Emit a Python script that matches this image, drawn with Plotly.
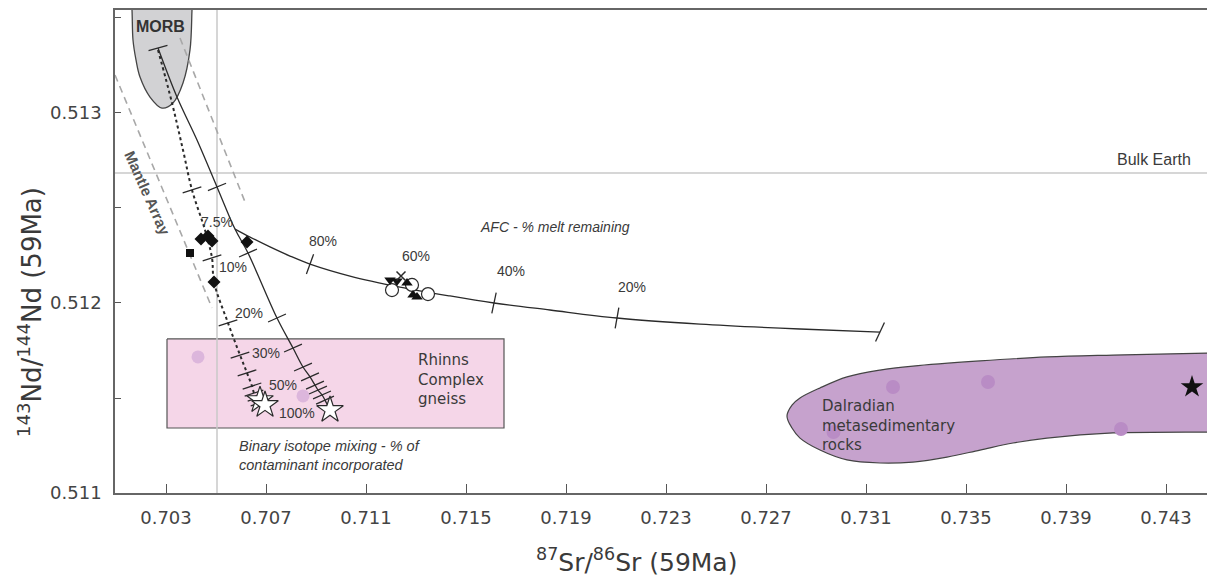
import plotly.graph_objects as go

# ---------------- axes ----------------
X_RANGE = [0.70096, 0.74496]
Y_RANGE = [0.5110, 0.513542]
x_ticks = [0.703, 0.707, 0.711, 0.715, 0.719, 0.723, 0.727, 0.731, 0.735, 0.739, 0.743]
x_tick_labels = ["0.703", "0.707", "0.711", "0.715", "0.719", "0.723", "0.727", "0.731", "0.735", "0.739", "0.743"]
y_ticks = [0.511, 0.512, 0.513]
y_tick_labels = ["0.511", "0.512", "0.513"]

# Bulk Earth reference values
bulk_earth_sr = 0.70504
bulk_earth_nd = 0.512684

# ---------------- fields ----------------
morb_x = [0.70156, 0.70164, 0.70168, 0.70180, 0.70196, 0.70236, 0.70284, 0.70328, 0.70368, 0.70396, 0.70404, 0.70408]
morb_y = [0.51370, 0.513542, 0.513384, 0.513279, 0.513189, 0.513084, 0.513026, 0.513053, 0.513158, 0.513332, 0.513542, 0.51370]

dal_x = [0.72784, 0.72804, 0.72836, 0.72916, 0.73024, 0.73156, 0.73288, 0.73556, 0.73824, 0.74088, 0.74488, 0.74676,
         0.74676, 0.74488, 0.74088, 0.73824, 0.73688, 0.73556, 0.73424, 0.73288, 0.73156, 0.73024, 0.72916, 0.72836, 0.72804, 0.72784]
dal_y = [0.511405, 0.511463, 0.511500, 0.511553, 0.511611, 0.511647, 0.511668, 0.511695, 0.511716, 0.511726, 0.511737, 0.511742,
         0.511321, 0.511321, 0.511316, 0.511289, 0.511263, 0.511226, 0.511189, 0.511163, 0.511158, 0.511174, 0.511226, 0.511289, 0.511342, 0.511405]

rhinns_x = [0.70304, 0.71652, 0.71652, 0.70304, 0.70304]
rhinns_y = [0.511811, 0.511811, 0.511342, 0.511342, 0.511811]

# Mantle array bounds
ma_left_x = [0.70096, 0.70484]
ma_left_y = [0.513200, 0.511974]
ma_right_x = [0.70356, 0.70616]
ma_right_y = [0.513395, 0.512532]

# ---------------- model curves ----------------
mix_a_x = [0.70268, 0.70344, 0.70424, 0.70504, 0.70576, 0.70628, 0.70744, 0.70808, 0.70848, 0.70876, 0.70896, 0.70908, 0.70924, 0.70936, 0.70956]
mix_a_y = [0.513342, 0.513084, 0.512858, 0.512611, 0.512389, 0.512263, 0.511921, 0.511763, 0.511663, 0.511611, 0.511568, 0.511542, 0.511516, 0.511489, 0.511437]
mix_a_tick_x = [0.70268, 0.70504, 0.70628, 0.70744, 0.70808, 0.70848, 0.70876, 0.70896, 0.70908, 0.70924, 0.70936]
mix_a_tick_y = [0.513342, 0.512611, 0.512263, 0.511921, 0.511763, 0.511663, 0.511611, 0.511568, 0.511542, 0.511516, 0.511489]
mix_a_tick_angle = [-15, -22, -24, -24, -24, -24, -24, -24, -24, -24, -24]

mix_b_x = [0.70268, 0.70324, 0.70368, 0.70404, 0.70456, 0.70484, 0.70492, 0.70548, 0.70596, 0.70624, 0.70644, 0.70652, 0.70664, 0.70676, 0.70688]
mix_b_y = [0.513332, 0.513053, 0.512805, 0.512595, 0.512384, 0.512237, 0.512111, 0.511895, 0.511726, 0.511632, 0.511563, 0.511526, 0.511500, 0.511474, 0.511432]
mix_b_tick_x = [0.70404, 0.70484, 0.70548, 0.70596, 0.70624, 0.70644, 0.70652, 0.70664, 0.70676]
mix_b_tick_y = [0.512595, 0.512237, 0.511895, 0.511726, 0.511632, 0.511563, 0.511526, 0.511500, 0.511474]

mix_labels = ["7.5%", "10%", "20%", "30%", "50%", "100%"]
mix_label_x = [0.70504, 0.70568, 0.70632, 0.70700, 0.70768, 0.70824]
mix_label_y = [0.512426, 0.512189, 0.511947, 0.511737, 0.511568, 0.511421]

afc_x = [0.70576, 0.70636, 0.70716, 0.70796, 0.70876, 0.71036, 0.71236, 0.71436, 0.71612, 0.71836, 0.72104, 0.72436, 0.72836, 0.73156]
afc_y = [0.512389, 0.512347, 0.512295, 0.512247, 0.512205, 0.512142, 0.512084, 0.512037, 0.512000, 0.511963, 0.511921, 0.511889, 0.511863, 0.511847]
afc_tick_x = [0.70876, 0.71612, 0.72104, 0.73156]
afc_tick_y = [0.512205, 0.512000, 0.511921, 0.511847]
afc_tick_angle = [20, 12, 10, 25]
afc_labels = ["80%", "60%", "40%", "20%"]
afc_label_x = [0.70928, 0.71300, 0.71680, 0.72164]
afc_label_y = [0.512326, 0.512247, 0.512168, 0.512084]

# ---------------- samples ----------------
diamond_x = [0.70440, 0.70468, 0.70484, 0.70624, 0.70492]
diamond_y = [0.512337, 0.512353, 0.512326, 0.512321, 0.512111]
square_x = [0.70396]
square_y = [0.512263]
circle_x = [0.71204, 0.71284, 0.71348]
circle_y = [0.512068, 0.512095, 0.512047]
tri_down_x = [0.71196, 0.71224]
tri_down_y = [0.512121, 0.512116]
tri_up_x = [0.71264, 0.71288, 0.71304]
tri_up_y = [0.512105, 0.512042, 0.512032]
cross_x = [0.71240]
cross_y = [0.512142]
contam_star_x = [0.70676, 0.70696, 0.70956]
contam_star_y = [0.511489, 0.511463, 0.511437]
rhinns_dot_x = [0.70428, 0.70848]
rhinns_dot_y = [0.511716, 0.511511]
dal_dot_x = [0.73208, 0.73588, 0.72970, 0.74120]
dal_dot_y = [0.511558, 0.511584, 0.511321, 0.511337]
dal_star_x = [0.74404]
dal_star_y = [0.511558]

LINE = "#2a2a2a"
TXT = "#3a3a3a"

fig = go.Figure()

# fields
fig.add_trace(go.Scatter(x=rhinns_x, y=rhinns_y, mode="lines", fill="toself",
                         fillcolor="#f5d6e8", line=dict(color="#555555", width=1.2), hoverinfo="skip"))
fig.add_trace(go.Scatter(x=dal_x, y=dal_y, mode="lines", fill="toself", line_shape="spline",
                         fillcolor="#c6a2cd", line=dict(color="#444444", width=1.2), hoverinfo="skip"))
fig.add_trace(go.Scatter(x=morb_x, y=morb_y, mode="lines", fill="toself", line_shape="spline",
                         fillcolor="#d2d2d4", line=dict(color="#444444", width=1.3), hoverinfo="skip"))

# reference lines
fig.add_trace(go.Scatter(x=[bulk_earth_sr, bulk_earth_sr], y=Y_RANGE, mode="lines",
                         line=dict(color="#c8c8c8", width=1.5), hoverinfo="skip"))
fig.add_trace(go.Scatter(x=X_RANGE, y=[bulk_earth_nd, bulk_earth_nd], mode="lines",
                         line=dict(color="#c8c8c8", width=1.5), hoverinfo="skip"))

# mantle array
for mx, my in [(ma_left_x, ma_left_y), (ma_right_x, ma_right_y)]:
    fig.add_trace(go.Scatter(x=mx, y=my, mode="lines",
                             line=dict(color="#a8a8a8", width=1.6, dash="7px,5px"), hoverinfo="skip"))

# pale sample dots
fig.add_trace(go.Scatter(x=rhinns_dot_x, y=rhinns_dot_y, mode="markers",
                         marker=dict(size=13, color="#dcb6dc"), hoverinfo="skip"))
fig.add_trace(go.Scatter(x=dal_dot_x, y=dal_dot_y, mode="markers",
                         marker=dict(size=14, color="#b98cc5"), hoverinfo="skip"))

# curves
fig.add_trace(go.Scatter(x=mix_a_x, y=mix_a_y, mode="lines", line_shape="spline",
                         line=dict(color=LINE, width=1.3), hoverinfo="skip"))
fig.add_trace(go.Scatter(x=mix_b_x, y=mix_b_y, mode="lines", line_shape="spline",
                         line=dict(color=LINE, width=2, dash="dot"), hoverinfo="skip"))
fig.add_trace(go.Scatter(x=afc_x, y=afc_y, mode="lines", line_shape="spline",
                         line=dict(color=LINE, width=1.3), hoverinfo="skip"))

# tick marks on curves
fig.add_trace(go.Scatter(x=mix_a_tick_x, y=mix_a_tick_y, mode="markers",
                         marker=dict(symbol="line-ew", size=14, angle=mix_a_tick_angle,
                                     line=dict(color=LINE, width=1.3)), hoverinfo="skip"))
fig.add_trace(go.Scatter(x=mix_b_tick_x, y=mix_b_tick_y, mode="markers",
                         marker=dict(symbol="line-ew", size=14, angle=-18,
                                     line=dict(color=LINE, width=1.3)), hoverinfo="skip"))
fig.add_trace(go.Scatter(x=afc_tick_x, y=afc_tick_y, mode="markers",
                         marker=dict(symbol="line-ns", size=15, angle=afc_tick_angle,
                                     line=dict(color=LINE, width=1.3)), hoverinfo="skip"))

# samples
fig.add_trace(go.Scatter(x=diamond_x, y=diamond_y, mode="markers",
                         marker=dict(symbol="diamond", size=10, color="#111111"), hoverinfo="skip"))
fig.add_trace(go.Scatter(x=square_x, y=square_y, mode="markers",
                         marker=dict(symbol="square", size=8, color="#111111"), hoverinfo="skip"))
fig.add_trace(go.Scatter(x=circle_x, y=circle_y, mode="markers",
                         marker=dict(symbol="circle", size=13, color="white",
                                     line=dict(color=LINE, width=1.2)), hoverinfo="skip"))
fig.add_trace(go.Scatter(x=tri_down_x, y=tri_down_y, mode="markers",
                         marker=dict(symbol="triangle-down", size=10, color="#111111"), hoverinfo="skip"))
fig.add_trace(go.Scatter(x=tri_up_x, y=tri_up_y, mode="markers",
                         marker=dict(symbol="triangle-up", size=10, color="#111111"), hoverinfo="skip"))
fig.add_trace(go.Scatter(x=cross_x, y=cross_y, mode="markers",
                         marker=dict(symbol="x-thin", size=9, line=dict(color=LINE, width=1.5)), hoverinfo="skip"))
fig.add_trace(go.Scatter(x=contam_star_x, y=contam_star_y, mode="markers",
                         marker=dict(symbol="star", size=20, color="white",
                                     line=dict(color=LINE, width=1.2)), hoverinfo="skip"))
fig.add_trace(go.Scatter(x=dal_star_x, y=dal_star_y, mode="markers",
                         marker=dict(symbol="star", size=17, color="#111111"), hoverinfo="skip"))

ann = []
LBL = dict(family="Liberation Sans, Arial", size=14, color=TXT)
for t, x, y in zip(mix_labels, mix_label_x, mix_label_y):
    ann.append(dict(x=x, y=y, text=t, showarrow=False, font=LBL, xanchor="center", yanchor="middle"))
for t, x, y in zip(afc_labels, afc_label_x, afc_label_y):
    ann.append(dict(x=x, y=y, text=t, showarrow=False, font=LBL, xanchor="center", yanchor="middle"))

ann += [
    dict(x=0.70276, y=0.513453, text="<b>MORB</b>", showarrow=False,
         font=dict(family="Liberation Sans, Arial", size=16, color="#333333")),
    dict(x=0.70224, y=0.512579, text="<b>Mantle Array</b>", showarrow=False, textangle=66,
         font=dict(family="Liberation Sans, Arial", size=15, color="#555555")),
    dict(x=0.74408, y=0.512753, text="Bulk Earth", showarrow=False, xanchor="right",
         font=dict(family="Liberation Sans, Arial", size=16, color=TXT)),
    dict(x=0.71856, y=0.51240, text="<i>AFC - % melt remaining</i>", showarrow=False,
         font=dict(family="Liberation Sans, Arial", size=14, color=TXT)),
    dict(x=0.70584, y=0.51120, text="<i>Binary isotope mixing - % of<br>contaminant incorporated</i>",
         showarrow=False, xanchor="left", align="left",
         font=dict(family="Liberation Sans, Arial", size=14.5, color=TXT)),
    dict(x=0.71300, y=0.511595, text="Rhinns<br>Complex<br>gneiss", showarrow=False,
         xanchor="left", align="left", font=dict(family="DejaVu Sans", size=15, color=TXT)),
    dict(x=0.72916, y=0.511353, text="Dalradian<br>metasedimentary<br>rocks", showarrow=False,
         xanchor="left", align="left", font=dict(family="DejaVu Sans", size=15, color=TXT)),
    # axis titles
    dict(xref="paper", yref="paper", x=0.4745, y=-0.139, text="<sup>87</sup>Sr/<sup>86</sup>Sr (59Ma)",
         showarrow=False, xanchor="center", yanchor="middle",
         font=dict(family="DejaVu Sans", size=25, color=TXT)),
    dict(xref="paper", yref="paper", x=-0.077, y=0.375, text="<sup>143</sup>Nd/<sup>144</sup>Nd (59Ma)",
         showarrow=False, xanchor="center", yanchor="middle", textangle=-90,
         font=dict(family="DejaVu Sans", size=26, color=TXT)),
]

# page body has an 8px margin: plot area placed at x 115..1215, y 10..493 of the window
fig.update_layout(
    width=1207, height=567,
    margin=dict(l=107, r=0, t=2, b=82),
    paper_bgcolor="white", plot_bgcolor="white",
    showlegend=False,
    annotations=ann,
    xaxis=dict(range=X_RANGE, showgrid=False, zeroline=False, showline=True, linecolor="#666666",
               linewidth=1.5, mirror=True, ticks="inside", ticklen=9, tickwidth=1.3, tickcolor="#555555",
               tickvals=x_ticks, ticktext=x_tick_labels, ticklabelstandoff=8,
               tickfont=dict(family="DejaVu Sans", size=18, color="#444444")),
    yaxis=dict(range=Y_RANGE, showgrid=False, zeroline=False, showline=True, linecolor="#666666",
               linewidth=1.5, ticks="inside", ticklen=6, tickwidth=1.3, tickcolor="#555555",
               tickvals=y_ticks, ticktext=y_tick_labels, ticklabelstandoff=8,
               minor=dict(dtick=0.0005, tick0=0.511, ticks="inside", ticklen=6, tickwidth=1.3, tickcolor="#555555"),
               tickfont=dict(family="DejaVu Sans", size=18, color="#444444")),
)

fig.write_html("out.html")
